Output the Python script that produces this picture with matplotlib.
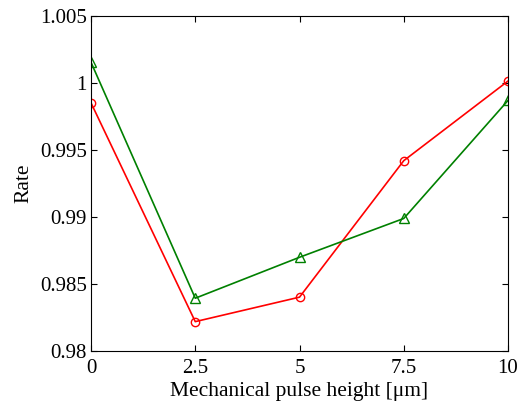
import numpy as np
import matplotlib
matplotlib.use("Agg")
import matplotlib.pyplot as plt

# dados
height_um = [0, 2.5, 5, 7.5, 10]
rate_red = [0.99852, 0.98217, 0.98400, 0.99420, 1.00015]
rate_green = [1.00155, 0.98392, 0.98698, 0.98988, 0.99870]

x_ticks = [0, 2.5, 5, 7.5, 10]
x_ticklabels = ["0", "2.5", "5", "7.5", "10"]
y_ticks = [0.98, 0.985, 0.99, 0.995, 1.0, 1.005]
y_ticklabels = ["0.98", "0.985", "0.99", "0.995", "1", "1.005"]

plt.rcParams["font.family"] = ["Liberation Serif", "DejaVu Serif"]
plt.rcParams["font.size"] = 15.5

fig = plt.figure(figsize=(5.18, 4.04), dpi=100)
ax = fig.add_axes([0.1757, 0.132, 0.805, 0.828])

ax.plot(height_um, rate_red, color="#ff0000", lw=1.2, marker="o",
        ms=6, mfc="none", mec="#ff0000", mew=1.0)
ax.plot(height_um, rate_green, color="#008000", lw=1.2, marker="^",
        ms=6.5, mfc="none", mec="#008000", mew=1.0)

ax.set_xlim(0, 10)
ax.set_ylim(0.98, 1.005)
ax.set_xticks(x_ticks)
ax.set_xticklabels(x_ticklabels)
ax.set_yticks(y_ticks)
ax.set_yticklabels(y_ticklabels)

ax.tick_params(direction="in", top=True, right=True, length=4.5, width=0.8,
               labelsize=15)
ax.tick_params(axis="x", pad=6)
ax.tick_params(axis="y", pad=3)
for s in ax.spines.values():
    s.set_linewidth(0.8)

ax.set_xlabel("Mechanical pulse height [\u03bcm]", labelpad=3)
ax.set_ylabel("Rate", labelpad=5)

fig.savefig("out.png", dpi=100)
